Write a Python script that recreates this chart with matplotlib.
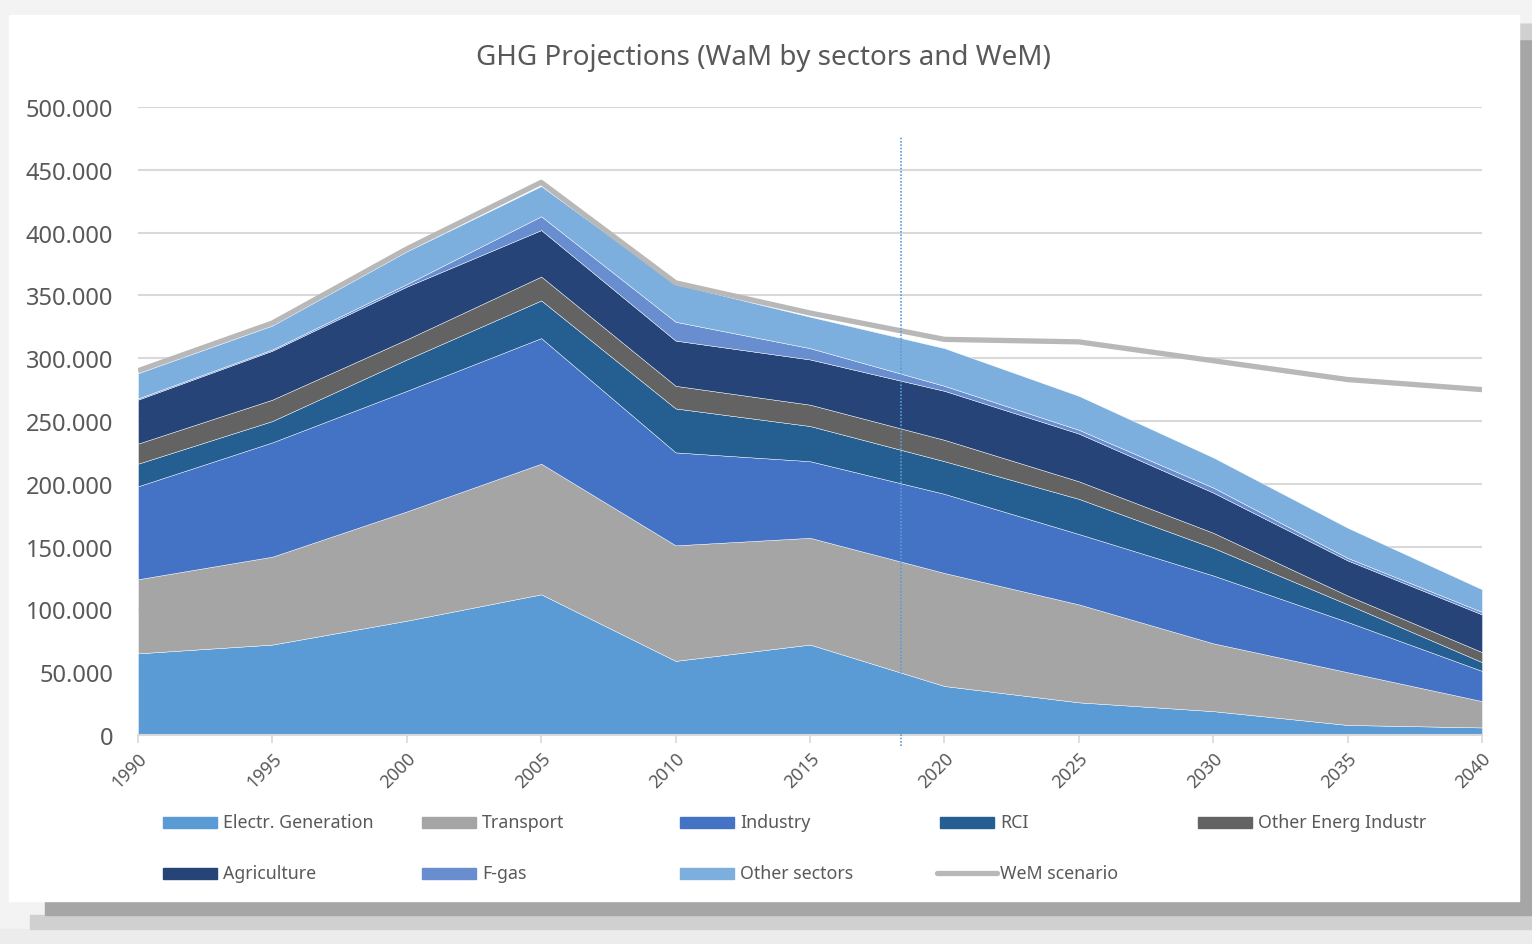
#!/usr/bin/env python3

import matplotlib
matplotlib.use("Agg")
import matplotlib.pyplot as plt
import matplotlib.patches as mpatches
import matplotlib.lines as mlines
from matplotlib.ticker import FuncFormatter

plt.rcParams['font.family'] = ['Noto Sans', 'DejaVu Sans']

years = [1990, 1995, 2000, 2005, 2010, 2015, 2020, 2025, 2030, 2035, 2040]

# thousand t CO2eq per sector (WaM)
electr = [65, 72, 91, 112, 59, 72, 39, 26, 19, 8, 6]
transport = [59, 70, 87, 104, 92, 85, 90, 78, 54, 42, 21]
industry = [74, 91, 96, 100, 74, 61, 63, 56, 54, 40, 24]
rci = [18, 17, 25, 30, 35, 28, 26, 28, 22, 14, 7]
other_energ = [16, 17, 16, 19, 18, 17, 17, 14, 12, 7, 8]
agriculture = [35, 39, 42, 37, 36, 36, 39, 38, 32, 28, 30]
fgas = [1, 1, 2, 11, 15, 9, 4, 3, 4, 2, 2]
other_sectors = [20, 19, 26, 24, 30, 25, 30, 27, 24, 24, 18]
wem = [290, 328, 387, 440, 360, 336, 315, 313, 298, 283, 275]

labels = ['Electr. Generation', 'Transport', 'Industry', 'RCI', 'Other Energ Industr',
          'Agriculture', 'F-gas', 'Other sectors']
colors = ['#5b9bd5', '#a5a5a5', '#4472c4', '#255e91', '#636363',
          '#264478', '#698ed0', '#7cafdd']
wem_color = '#b8b8b8'
cutoff_year = 2018.4

W, H = 1532, 945
fig = plt.figure(figsize=(W / 100, H / 100), dpi=100)
fig.patch.set_facecolor('#f3f3f3')

# shadowed card behind the chart
fig.add_artist(mpatches.Rectangle((1519 / W, 1 - 930 / H), 13 / W, 905 / H,
                                  transform=fig.transFigure, color='#a6a6a6', zorder=0))
fig.add_artist(mpatches.Rectangle((1519 / W, 1 - 40 / H), 13 / W, 15 / H,
                                  transform=fig.transFigure, color='#d0d0d0', zorder=0))
fig.add_artist(mpatches.Rectangle((0, 1 - 945 / H), 1, 15 / H,
                                  transform=fig.transFigure, color='#ececec', zorder=0))
fig.add_artist(mpatches.Rectangle((30 / W, 1 - 930 / H), 1502 / W, 14 / H,
                                  transform=fig.transFigure, color='#d0d0d0', zorder=0))
fig.add_artist(mpatches.Rectangle((45 / W, 1 - 916 / H), 1487 / W, 14 / H,
                                  transform=fig.transFigure, color='#a6a6a6', zorder=0))
fig.add_artist(mpatches.Rectangle((9 / W, 1 - 902 / H), 1510 / W, 886 / H,
                                  transform=fig.transFigure, color='white', zorder=0))

ax = fig.add_axes([138 / W, 1 - 736 / H, (1482 - 138) / W, (736 - 108) / H])
ax.set_facecolor('none')

ax.stackplot(years, electr, transport, industry, rci, other_energ, agriculture,
             fgas, other_sectors, colors=colors, labels=labels,
             edgecolor='#ffffff', linewidth=0.3, zorder=2)
ax.plot(years, wem, color=wem_color, linewidth=3.8, zorder=3, solid_capstyle='butt')
ax.vlines(cutoff_year, -9, 477, colors='#5b9bd5', linestyles=(0, (1, 1)),
          linewidth=1.2, clip_on=False, zorder=4)

ax.set_xlim(1990, 2040)
ax.set_ylim(0, 500)
ax.set_yticks(range(0, 501, 50))
ax.yaxis.set_major_formatter(FuncFormatter(lambda v, p: '0' if v == 0 else f'{int(v)}.000'))
ax.set_xticks(years)
ax.set_xticklabels([str(y) for y in years], rotation=45, ha='right',
                   rotation_mode='anchor', fontsize=13, color='#595959')
ax.tick_params(axis='y', length=0, pad=18, labelsize=17, labelcolor='#595959')
ax.tick_params(axis='x', length=6, width=1.2, color='#d9d9d9', pad=4)
ax.grid(axis='y', color='#d9d9d9', linewidth=1.5, zorder=0)
ax.set_axisbelow(True)
for s in ['top', 'right', 'left']:
    ax.spines[s].set_visible(False)
ax.spines['bottom'].set_color('#d9d9d9')
ax.spines['bottom'].set_linewidth(1.5)

fig.text(763 / W, 1 - 58 / H, 'GHG Projections (WaM by sectors and WeM)',
         ha='center', va='center', fontsize=20, color='#595959')

# legend, laid out in a 5 x 2 grid like the original
col_x = [163, 422, 680, 940, 1198]
row_y = [823, 874]
entries = list(zip(labels, colors)) + [('WeM scenario', None)]
for i, (lab, col) in enumerate(entries):
    x0 = col_x[i % 5]
    y0 = row_y[i // 5]
    if col is None:
        fig.add_artist(mlines.Line2D([(x0 - 3) / W, (x0 + 57) / W], [1 - y0 / H, 1 - y0 / H],
                                     transform=fig.transFigure, color=wem_color,
                                     linewidth=3.8, solid_capstyle='round'))
    else:
        fig.add_artist(mpatches.Rectangle((x0 / W, 1 - (y0 + 5.5) / H), 54 / W, 11 / H,
                                          transform=fig.transFigure, color=col))
    fig.text((x0 + 60) / W, 1 - y0 / H, lab, ha='left', va='center',
             fontsize=12.8, color='#595959')

fig.savefig('out.png', dpi=100, facecolor=fig.get_facecolor())
